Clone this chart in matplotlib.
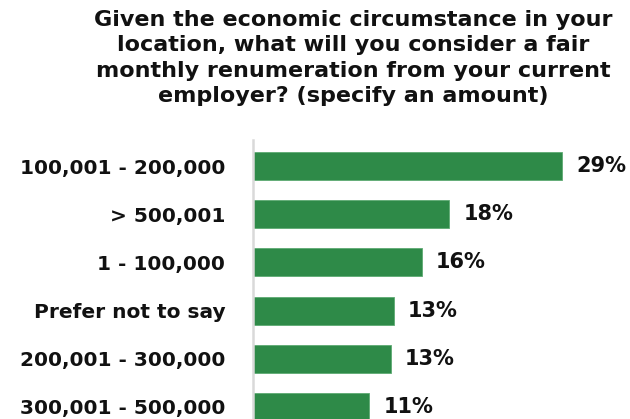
import matplotlib
matplotlib.use("Agg")
import matplotlib.pyplot as plt

# Survey responses: fair monthly remuneration
categories = ["100,001 - 200,000", "> 500,001", "1 - 100,000",
              "Prefer not to say", "200,001 - 300,000", "300,001 - 500,000"]
shares = [29.0, 18.4, 15.8, 13.2, 12.9, 10.9]

title = ("Given the economic circumstance in your\n"
         "location, what will you consider a fair\n"
         "monthly renumeration from your current\n"
         "employer? (specify an amount)")

plt.rcParams["font.family"] = ["DejaVu Sans"]

bar_color = "#2E8A48"
text_color = "#111111"

fig = plt.figure(figsize=(6.3, 4.19), dpi=100)
ax = fig.add_axes([0.4016, -0.0334, 0.5925, 0.6993])

pos = list(range(len(categories)))
ax.barh(pos, shares, height=0.58, color=bar_color, edgecolor="#5DAA72", linewidth=0.6)
ax.set_ylim(len(categories) - 0.46, -0.54)
ax.set_xlim(0, 35)

for p, v in zip(pos, shares):
    ax.text(v + 1.35, p, f"{v:.0f}%", va="center", ha="left",
            fontsize=15, fontweight="bold", color=text_color)

ax.set_yticks(pos)
ax.set_yticklabels(categories, fontsize=14.5, fontweight="bold", color=text_color)
ax.tick_params(axis="y", length=0, pad=20)
ax.set_xticks([])

for side in ("top", "right", "bottom"):
    ax.spines[side].set_visible(False)
ax.spines["left"].set_color("#D9D9D9")
ax.spines["left"].set_linewidth(1.8)

fig.text(0.561, 0.976, title, ha="center", va="top", fontsize=16,
         fontweight="bold", color=text_color, linespacing=1.33)

fig.savefig("out.png", dpi=100, facecolor="white")
